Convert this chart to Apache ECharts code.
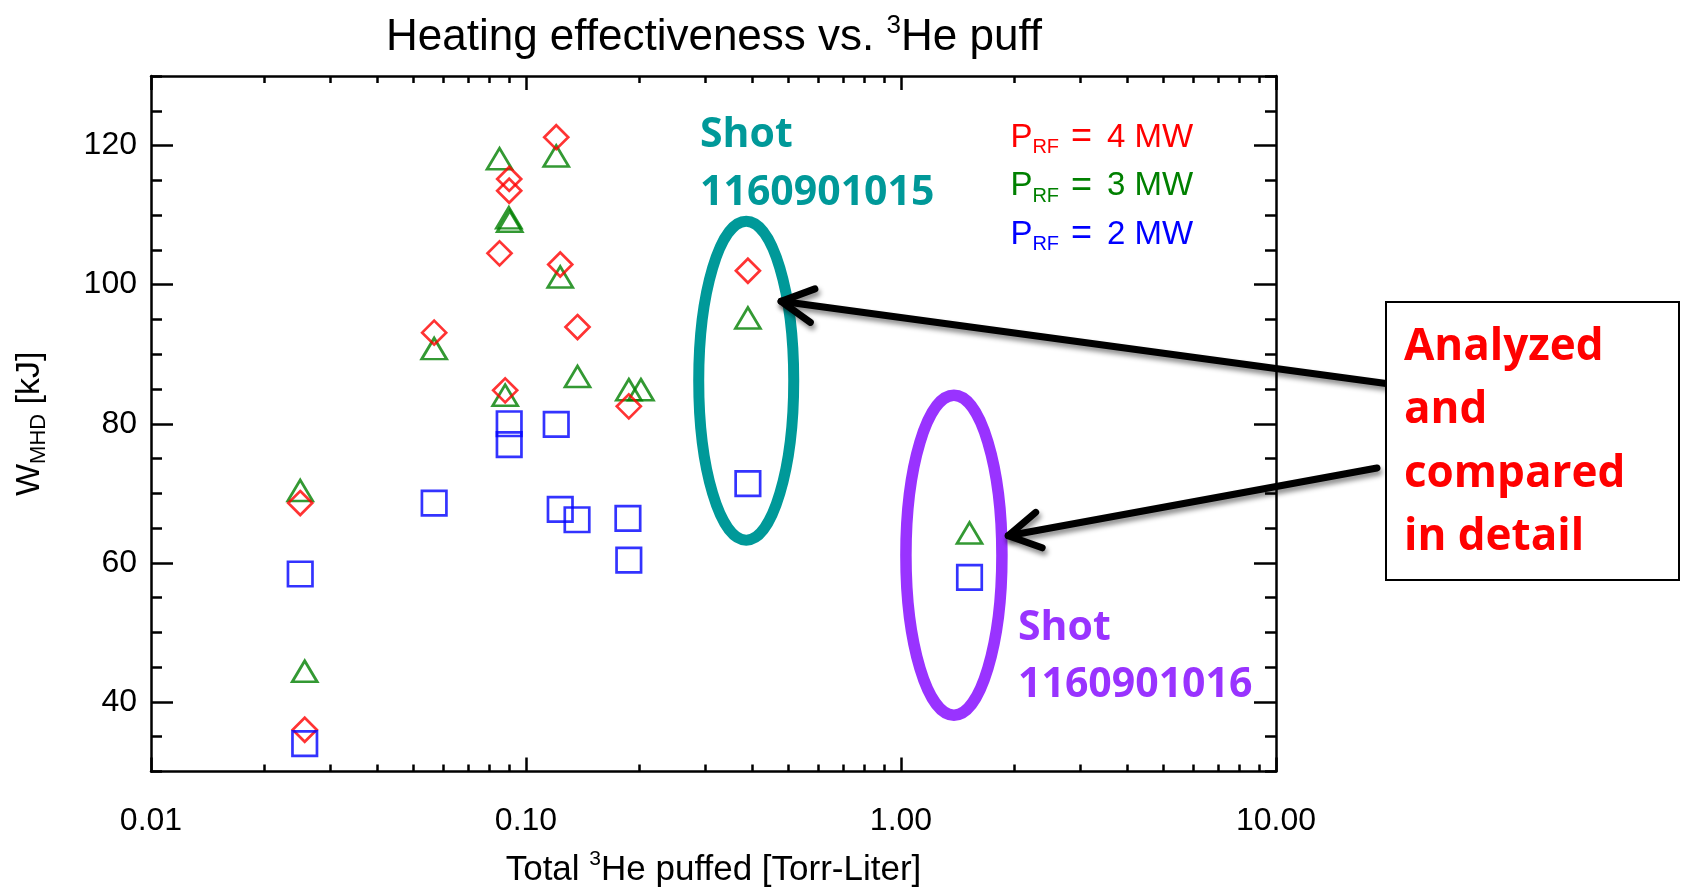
<!DOCTYPE html>
<html>
<head>
<meta charset="utf-8">
<script src="https://cdn.jsdelivr.net/npm/echarts@6/dist/echarts.min.js"></script>
<style>
html,body{margin:0;padding:0;background:#ffffff;}
#c{width:1681px;height:893px;}
</style>
</head>
<body>
<div id="c"></div>
<script>
// ---- data ----
const rf4X = [0.0250, 0.0257, 0.0569, 0.0850, 0.0902, 0.0902, 0.0880, 0.1204, 0.1234, 0.1372, 0.1880, 0.3906];
const rf4Y = [68.6, 36.0, 93.1, 104.5, 115.2, 113.5, 84.8, 121.2, 102.9, 93.9, 82.5, 102.0];

const rf3X = [0.0250, 0.0257, 0.0569, 0.0850, 0.0900, 0.0905, 0.0880, 0.1204, 0.1234, 0.1372, 0.1880, 0.2025, 0.3906, 1.523];
const rf3Y = [70.4, 44.4, 90.8, 118.1, 109.6, 109.1, 84.1, 118.5, 101.1, 86.8, 84.9, 84.9, 95.2, 64.3];

const rf2X = [0.0250, 0.0257, 0.0569, 0.0902, 0.0902, 0.1204, 0.1234, 0.1368, 0.1870, 0.1880, 0.3906, 1.523];
const rf2Y = [58.4, 34.0, 68.6, 80.0, 77.0, 79.9, 67.7, 66.2, 66.4, 60.4, 71.4, 57.9];

const xMajor = [0.01, 0.1, 1, 10];
const xTickLabels = ['0.01', '0.10', '1.00', '10.00'];
const xMinor = [0.02,0.03,0.04,0.05,0.06,0.07,0.08,0.09,
                0.2,0.3,0.4,0.5,0.6,0.7,0.8,0.9,
                2,3,4,5,6,7,8,9];
const yMajor = [40, 60, 80, 100, 120];
const yMinor = [30, 35, 45, 50, 55, 65, 70, 75, 85, 90, 95, 105, 110, 115, 125, 130];

// annotation anchors in data coordinates
const shot15Center = [0.3866, 86.2];
const shot16Center = [1.384, 61.1];
const arrow1Tip = [0.479, 97.6];
const arrow2Tip = [1.932, 63.9];

// ---- chart ----
const FONT = 'Liberation Sans, Arial, Helvetica, sans-serif';
const BOLD = 'Open Sans, Noto Sans, sans-serif';
const AXW = 2.5;

function zip(xs, ys) { return xs.map((x, i) => [x, ys[i]]); }
function xFmt(v) {
  const i = xMajor.findIndex(m => Math.abs(Math.log10(v) - Math.log10(m)) < 1e-6);
  return i >= 0 ? xTickLabels[i] : '';
}

function xAx(pos, major, extra) {
  return Object.assign({
    type: 'log', logBase: 10, min: 0.01, max: 10, position: pos, gridIndex: 0,
    axisLine: { show: major, onZero: false, lineStyle: { color: '#000', width: AXW } },
    axisTick: major
      ? { show: true, inside: true, length: 14, lineStyle: { color: '#000', width: AXW } }
      : { show: true, inside: true, length: 7, customValues: xMinor, lineStyle: { color: '#000', width: AXW } },
    axisLabel: { show: false },
    splitLine: { show: false },
    minorTick: { show: false },
    minorSplitLine: { show: false },
    axisPointer: { show: false }
  }, extra || {});
}
function yAx(pos, major, extra) {
  return Object.assign({
    type: 'value', min: 30, max: 130, position: pos, gridIndex: 0,
    axisLine: { show: major, onZero: false, lineStyle: { color: '#000', width: AXW } },
    axisTick: { show: true, inside: true, length: major ? 22 : 11, customValues: major ? yMajor : yMinor,
                lineStyle: { color: '#000', width: AXW } },
    axisLabel: { show: false },
    splitLine: { show: false },
    minorTick: { show: false },
    minorSplitLine: { show: false },
    axisPointer: { show: false }
  }, extra || {});
}

const option = {
  backgroundColor: '#ffffff',
  animation: false,
  grid: { left: 151, top: 76, width: 1125, height: 699, containLabel: false },
  xAxis: [
    xAx('bottom', true, {
      axisLabel: { show: true, margin: 34, color: '#000', fontSize: 32, fontFamily: FONT, formatter: xFmt },
      name: '{m|Total }{s|3}{m|He puffed [Torr-Liter]}',
      nameLocation: 'middle', nameGap: 77,
      nameTextStyle: {
        color: '#000', fontFamily: FONT, fontSize: 35,
        rich: {
          m: { fontSize: 35, fontFamily: FONT, color: '#000', lineHeight: 44 },
          s: { fontSize: 21, fontFamily: FONT, color: '#000', lineHeight: 27, verticalAlign: 'top' }
        }
      }
    }),
    xAx('top', true),
    xAx('bottom', false),
    xAx('top', false)
  ],
  yAxis: [
    yAx('left', true, {
      axisLabel: { show: true, margin: 14, color: '#000', fontSize: 32, fontFamily: FONT,
                   customValues: yMajor, padding: [12, 0, 0, 0] },
      name: '{m|W}{s|MHD}{m| [kJ]}',
      nameLocation: 'middle', nameGap: 101,
      nameTextStyle: {
        color: '#000', fontFamily: FONT, fontSize: 34,
        rich: {
          m: { fontSize: 34, fontFamily: FONT, color: '#000', lineHeight: 40 },
          s: { fontSize: 22, fontFamily: FONT, color: '#000', lineHeight: 10, verticalAlign: 'bottom' }
        }
      }
    }),
    yAx('right', true),
    yAx('left', false),
    yAx('right', false)
  ],
  series: [
    {
      name: 'PRF = 3 MW', type: 'scatter', xAxisIndex: 0, yAxisIndex: 0,
      symbol: 'triangle', symbolSize: [25, 21],
      itemStyle: { color: 'rgba(0,0,0,0)', borderColor: '#008000', borderWidth: 2.7 },
      emphasis: { disabled: true }, data: zip(rf3X, rf3Y)
    },
    {
      name: 'PRF = 4 MW', type: 'scatter', xAxisIndex: 0, yAxisIndex: 0,
      symbol: 'diamond', symbolSize: 24,
      itemStyle: { color: 'rgba(0,0,0,0)', borderColor: '#ff0000', borderWidth: 2.7 },
      emphasis: { disabled: true }, data: zip(rf4X, rf4Y)
    },
    {
      name: 'PRF = 2 MW', type: 'scatter', xAxisIndex: 0, yAxisIndex: 0,
      symbol: 'rect', symbolSize: 24.5,
      itemStyle: { color: 'rgba(0,0,0,0)', borderColor: '#0000ff', borderWidth: 2.7 },
      emphasis: { disabled: true }, data: zip(rf2X, rf2Y)
    }
  ]
};

const chart = echarts.init(document.getElementById('c'), null, { renderer: 'canvas' });
chart.setOption(option);

function px(pt) { return chart.convertToPixel({ xAxisIndex: 0, yAxisIndex: 0 }, pt); }

function arrow(tip, tail, len, ang) {
  const dx = tail[0] - tip[0], dy = tail[1] - tip[1];
  const d = Math.hypot(dx, dy), ux = dx / d, uy = dy / d;
  const a = ang * Math.PI / 180;
  const r = (s) => [tip[0] + len * (ux * Math.cos(s * a) - uy * Math.sin(s * a)),
                    tip[1] + len * (ux * Math.sin(s * a) + uy * Math.cos(s * a))];
  const st = { stroke: '#000', lineWidth: 7, lineCap: 'round', lineJoin: 'round', fill: null,
               shadowColor: 'rgba(0,0,0,0.45)', shadowBlur: 5, shadowOffsetX: 2, shadowOffsetY: 4 };
  return [
    { type: 'line', z: 50, shape: { x1: tail[0], y1: tail[1], x2: tip[0], y2: tip[1] }, style: st },
    { type: 'polyline', z: 50, shape: { points: [r(1), tip, r(-1)] }, style: st }
  ];
}

const c15 = px(shot15Center), c16 = px(shot16Center);
const t1 = px(arrow1Tip), t2 = px(arrow2Tip);

function legendLine(num, color, y) {
  return {
    type: 'text', z: 60, x: 1010.4, y: y,
    style: {
      text: '{a|P}{b|RF}{e|=}{a|' + num + ' MW}',
      align: 'left', verticalAlign: 'top',
      rich: {
        a: { fontSize: 33, fontFamily: FONT, fill: color, lineHeight: 40 },
        b: { fontSize: 20, fontFamily: FONT, fill: color, lineHeight: 10, verticalAlign: 'bottom' },
        e: { fontSize: 36, fontFamily: FONT, fill: color, lineHeight: 40, padding: [0, 15, 0, 12] }
      }
    }
  };
}

const graphics = [
  // title
  {
    type: 'text', z: 60, x: 714, y: 13,
    style: {
      text: '{m|Heating effectiveness vs. }{s|3}{m|He puff}',
      align: 'center', verticalAlign: 'top',
      rich: {
        m: { fontSize: 44, fontFamily: FONT, fill: '#000', lineHeight: 50 },
        s: { fontSize: 26, fontFamily: FONT, fill: '#000', lineHeight: 32, verticalAlign: 'top' }
      }
    }
  },
  legendLine('4', '#ff0000', 117.5),
  legendLine('3', '#008000', 166.0),
  legendLine('2', '#0000ff', 214.5),
  // ellipses
  { type: 'ellipse', z: 40, shape: { cx: c15[0], cy: c15[1], rx: 47.5, ry: 159.5 },
    style: { fill: null, stroke: '#009999', lineWidth: 11 } },
  { type: 'ellipse', z: 40, shape: { cx: c16[0], cy: c16[1], rx: 48, ry: 160 },
    style: { fill: null, stroke: '#9933ff', lineWidth: 11.5 } },
  // shot labels
  { type: 'text', z: 60, x: 700, y: 107,
    style: { text: 'Shot\n1160901015', fontSize: 41, fontWeight: 'bold', fontFamily: BOLD,
             fill: '#009999', lineHeight: 57.3, align: 'left', verticalAlign: 'top' } },
  { type: 'text', z: 60, x: 1018, y: 599.5,
    style: { text: 'Shot\n1160901016', fontSize: 41, fontWeight: 'bold', fontFamily: BOLD,
             fill: '#9933ff', lineHeight: 57.3, align: 'left', verticalAlign: 'top' } }
].concat(
  arrow(t1, [1386, 383.5], 36, 28),
  arrow(t2, [1377, 468], 36, 30),
  [
    { type: 'rect', z: 55, shape: { x: 1386, y: 302, width: 293, height: 278 },
      style: { fill: '#ffffff', stroke: '#000', lineWidth: 2 } },
    { type: 'text', z: 60, x: 1404, y: 316,
      style: { text: 'Analyzed\nand\ncompared\nin detail', fontSize: 44, fontWeight: 'bold', fontFamily: BOLD,
               fill: '#ff0000', lineHeight: 63.3, align: 'left', verticalAlign: 'top' } }
  ]
);

chart.setOption({ graphic: { elements: graphics } });
</script>
</body>
</html>
